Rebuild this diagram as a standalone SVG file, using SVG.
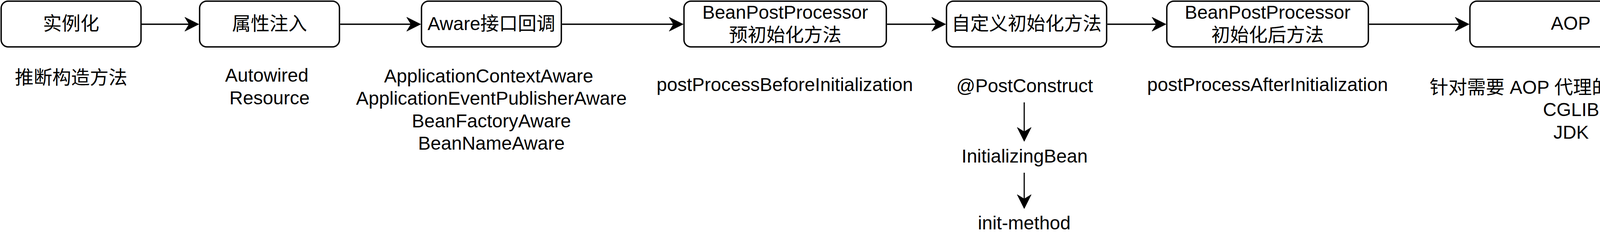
<svg xmlns="http://www.w3.org/2000/svg" width="5044" height="627" viewBox="0 0 5044 627">
<style>
.box{fill:#ffffff;stroke:#000000;stroke-width:3.5}
.t{font-family:"Liberation Sans","Noto Sans CJK SC",sans-serif;font-size:48px;fill:#000000;text-anchor:middle}
.h{fill:none;stroke:#000000;stroke-width:3.5}
.v{fill:none;stroke:#000000;stroke-width:3}
</style>
<defs>
<marker id="arr" markerUnits="userSpaceOnUse" orient="auto" overflow="visible" refX="0" refY="0" markerWidth="40" markerHeight="40">
<path d="M25,0 L-11,-18 L0,0 L-11,18 Z" fill="#000000" stroke="#000000" stroke-width="1"/>
</marker>
</defs>
<rect width="5044" height="627" fill="#ffffff"/>
<g id="connectors">
<line class="h" x1="362" y1="62" x2="484" y2="62" marker-end="url(#arr)"/>
<line class="h" x1="871" y1="62" x2="1052" y2="62" marker-end="url(#arr)"/>
<line class="h" x1="1439" y1="62" x2="1724" y2="62" marker-end="url(#arr)"/>
<line class="h" x1="2271" y1="62" x2="2396" y2="62" marker-end="url(#arr)"/>
<line class="h" x1="2835" y1="62" x2="2960" y2="62" marker-end="url(#arr)"/>
<line class="h" x1="3505" y1="62" x2="3736" y2="62" marker-end="url(#arr)"/>
<line class="h" x1="4281" y1="62" x2="4497" y2="62" marker-end="url(#arr)"/>
<line class="v" x1="2622" y1="262" x2="2622" y2="337" marker-end="url(#arr)"/>
<line class="v" x1="2622" y1="442" x2="2622" y2="509" marker-end="url(#arr)"/>
<line class="v" x1="4782" y1="262" x2="4782" y2="337" marker-end="url(#arr)"/>
<line class="v" x1="4782" y1="442" x2="4782" y2="509" marker-end="url(#arr)"/>
</g>
<g id="node-instantiate">
<rect class="box" x="3" y="3" width="358" height="117" rx="18" ry="18"/>
<text class="t" x="182" y="77">实例化</text>
</g>
<g id="node-populate">
<rect class="box" x="511" y="3" width="358" height="117" rx="18" ry="18"/>
<text class="t" x="690" y="77">属性注入</text>
</g>
<g id="node-aware">
<rect class="box" x="1079" y="3" width="358" height="117" rx="18" ry="18"/>
<text class="t" x="1258" y="77">Aware接口回调</text>
</g>
<g id="node-bpp-before">
<rect class="box" x="1751" y="3" width="518" height="117" rx="18" ry="18"/>
<text class="t" x="2010" y="48">BeanPostProcessor</text>
<text class="t" x="2010" y="106">预初始化方法</text>
</g>
<g id="node-init">
<rect class="box" x="2423" y="3" width="410" height="117" rx="18" ry="18"/>
<text class="t" x="2628" y="77">自定义初始化方法</text>
</g>
<g id="node-bpp-after">
<rect class="box" x="2987" y="3" width="516" height="117" rx="18" ry="18"/>
<text class="t" x="3245" y="48">BeanPostProcessor</text>
<text class="t" x="3245" y="106">初始化后方法</text>
</g>
<g id="node-aop">
<rect class="box" x="3763" y="3" width="516" height="117" rx="18" ry="18"/>
<text class="t" x="4021" y="76">AOP</text>
</g>
<g id="node-destroy">
<rect class="box" x="4524" y="3" width="516" height="117" rx="18" ry="18"/>
<text class="t" x="4782" y="77">自定义销毁方法</text>
</g>
<g id="note-instantiate">
<text class="t" x="182" y="215">推断构造方法</text>
</g>
<g id="note-populate">
<text class="t" x="683" y="209">Autowired</text>
<text class="t" x="690" y="267">Resource</text>
</g>
<g id="note-aware">
<text class="t" x="1251" y="211">ApplicationContextAware</text>
<text class="t" x="1258" y="268">ApplicationEventPublisherAware</text>
<text class="t" x="1258" y="326">BeanFactoryAware</text>
<text class="t" x="1258" y="383">BeanNameAware</text>
</g>
<g id="note-bpp-before">
<text class="t" x="2009" y="233">postProcessBeforeInitialization</text>
</g>
<g id="note-init">
<text class="t" x="2623" y="236">@PostConstruct</text>
<text class="t" x="2623" y="416">InitializingBean</text>
<text class="t" x="2622" y="587">init-method</text>
</g>
<g id="note-bpp-after">
<text class="t" x="3245" y="233">postProcessAfterInitialization</text>
</g>
<g id="note-aop">
<text class="t" x="4014" y="240">针对需要 AOP 代理的类进行AOP</text>
<text class="t" x="4022" y="297">CGLIB</text>
<text class="t" x="4022" y="355">JDK</text>
</g>
<g id="note-destroy">
<text class="t" x="4782" y="239">@PreDestroy</text>
<text class="t" x="4782" y="420">DisposableBean</text>
<text class="t" x="4782" y="591">detory-method</text>
</g>
</svg>
